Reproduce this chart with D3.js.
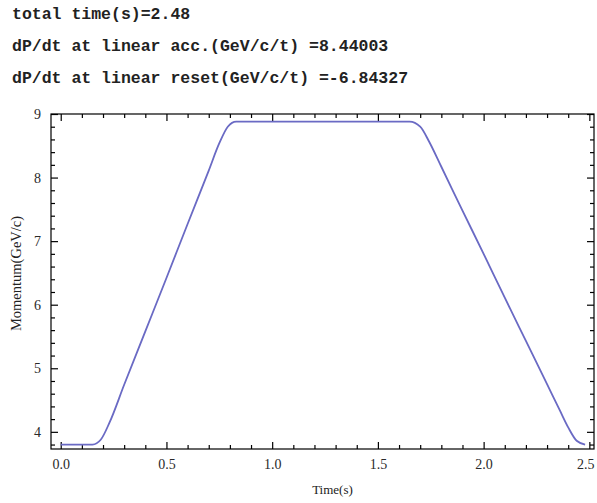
<!DOCTYPE html>
<html lang="en">
<head>
  <meta charset="UTF-8">
  <title>Momentum ramp</title>
  <script src="https://d3js.org/d3.v7.min.js"></script>
  <style>
    body{ margin:0; background:#fff; }
    .info{ font-family:"Liberation Mono", monospace; font-weight:bold; font-size:16.5px; fill:#222; }
    .tick text{ font-family:"Liberation Serif", serif; font-size:14px; fill:#2a2a2a; }
    .axis-label{ font-family:"Liberation Serif", serif; font-size:13px; fill:#222; }
  </style>
</head>
<body>
  <svg id="chart"></svg>
  <script>
    // header lines printed above the plot
    const infoLines = [
      "total time(s)=2.48",
      "dP/dt at linear acc.(GeV/c/t) =8.44003",
      "dP/dt at linear reset(GeV/c/t) =-6.84327"
    ];

    // curve
    const times    = [0.00, 0.10, 0.15, 0.19, 0.23, 0.30, 0.40, 0.50, 0.60, 0.70, 0.75, 0.79, 0.83,
                      1.00, 1.30, 1.65, 1.70, 1.74, 1.80, 1.90, 2.00, 2.10, 2.20, 2.30, 2.36, 2.40, 2.44, 2.48];
    const momentum = [3.80, 3.80, 3.80, 3.88, 4.14, 4.74, 5.58, 6.42, 7.27, 8.11, 8.54, 8.80, 8.88,
                      8.88, 8.88, 8.88, 8.80, 8.58, 8.17, 7.48, 6.80, 6.11, 5.43, 4.75, 4.34, 4.07, 3.86, 3.80];

    const xTicks = [0.0, 0.5, 1.0, 1.5, 2.0, 2.5];
    const yTicks = [4, 5, 6, 7, 8, 9];

    const W = 597, H = 503;
    const mLeft = 51, mRight = 594, mTop = 114, mBottom = 449;

    const svg = d3.select("#chart").attr("width", W).attr("height", H);

    svg.selectAll("text.info")
      .data(infoLines)
      .enter().append("text")
      .attr("class", "info")
      .attr("x", 12)
      .attr("y", (d, i) => 19 + i * 32)
      .text(d => d);

    const x = d3.scaleLinear().domain([-0.046, 2.522]).range([mLeft, mRight]);
    const y = d3.scaleLinear().domain([3.73, 9.0]).range([mBottom, mTop]);

    const xMinor = d3.range(0, 2.51, 0.1).filter(v => Math.abs(v * 2 - Math.round(v * 2)) > 1e-6);
    const yMinor = d3.range(3.8, 9.0, 0.2).filter(v => Math.abs(v - Math.round(v)) > 1e-6);

    // frame
    svg.append("rect")
      .attr("x", mLeft).attr("y", mTop)
      .attr("width", mRight - mLeft).attr("height", mBottom - mTop)
      .attr("fill", "none").attr("stroke", "#000").attr("stroke-width", 1.2);

    const fmt = d3.format(".1f");

    // bottom axis (ticks inside)
    const gx = svg.append("g").attr("transform", `translate(0,${mBottom})`)
      .call(d3.axisBottom(x).tickValues(xTicks).tickFormat(fmt).tickSize(-7).tickPadding(10));
    gx.select(".domain").remove();
    // last label sits against the page edge
    gx.selectAll(".tick text").filter(d => d === 2.5).attr("dx", -4);
    svg.append("g").attr("transform", `translate(0,${mBottom})`)
      .call(d3.axisBottom(x).tickValues(xMinor).tickFormat("").tickSize(-4))
      .call(g => g.select(".domain").remove());

    // top mirror
    svg.append("g").attr("transform", `translate(0,${mTop})`)
      .call(d3.axisTop(x).tickValues(xTicks).tickFormat("").tickSize(-7))
      .call(g => g.select(".domain").remove());
    svg.append("g").attr("transform", `translate(0,${mTop})`)
      .call(d3.axisTop(x).tickValues(xMinor).tickFormat("").tickSize(-4))
      .call(g => g.select(".domain").remove());

    // left axis
    const gy = svg.append("g").attr("transform", `translate(${mLeft},0)`)
      .call(d3.axisLeft(y).tickValues(yTicks).tickFormat(d3.format("d")).tickSize(-7).tickPadding(10));
    gy.select(".domain").remove();
    svg.append("g").attr("transform", `translate(${mLeft},0)`)
      .call(d3.axisLeft(y).tickValues(yMinor).tickFormat("").tickSize(-4))
      .call(g => g.select(".domain").remove());

    // right mirror
    svg.append("g").attr("transform", `translate(${mRight},0)`)
      .call(d3.axisRight(y).tickValues(yTicks).tickFormat("").tickSize(-7))
      .call(g => g.select(".domain").remove());
    svg.append("g").attr("transform", `translate(${mRight},0)`)
      .call(d3.axisRight(y).tickValues(yMinor).tickFormat("").tickSize(-4))
      .call(g => g.select(".domain").remove());

    svg.selectAll(".tick line").attr("stroke", "#000").attr("stroke-width", 1.2);

    // curve
    const pts = times.map((t, i) => [t, momentum[i]]);
    svg.append("path")
      .datum(pts)
      .attr("fill", "none")
      .attr("stroke", "#6a6ac4")
      .attr("stroke-width", 1.8)
      .attr("d", d3.line().x(d => x(d[0])).y(d => y(d[1])).curve(d3.curveMonotoneX));

    // axis labels
    svg.append("text").attr("class", "axis-label")
      .attr("x", (mLeft + mRight) / 2 + 10).attr("y", 494)
      .attr("text-anchor", "middle").text("Time(s)");
    svg.append("text").attr("class", "axis-label")
      .style("font-size", "14.5px")
      .attr("transform", `translate(21,${(mTop + mBottom) / 2 - 8}) rotate(-90)`)
      .attr("text-anchor", "middle").text("Momentum(GeV/c)");
  </script>
</body>
</html>
